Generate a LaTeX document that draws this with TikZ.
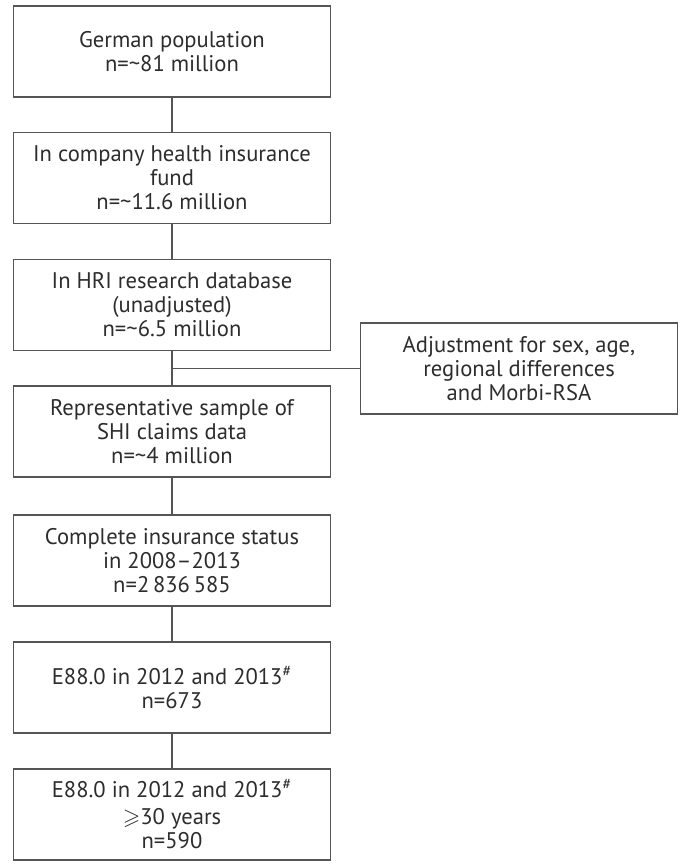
\documentclass[tikz,border=0pt]{standalone}
\usepackage{amsmath,amssymb}
\usepackage{fontspec}
\setmainfont{PT Sans}
\usepackage{tikz}
\usetikzlibrary{positioning}
\definecolor{boxline}{RGB}{85,85,85}
\definecolor{boxtext}{RGB}{45,45,45}

\begin{document}
\begin{tikzpicture}[x=0.5pt, y=-0.5pt,
    font=\fontsize{11.3pt}{12pt}\selectfont,
    flowbox/.style={draw=boxline, line width=0.7pt, text=boxtext, align=center,
      minimum width=158.5pt, minimum height=45.5pt, inner sep=2pt},
    link/.style={draw=boxline, line width=0.7pt}]
        \useasboundingbox[fill=white] (0,0) rectangle (681,864);
        % main chain of cohort steps
        \node[flowbox] (pop) at (172,51.5) {German population\\n=\textasciitilde81 million};
        \node[flowbox] (fund) at (172,178) {In company health insurance\\fund\\n=\textasciitilde11.6 million};
        \node[flowbox] (hri) at (172,305) {In HRI research database\\(unadjusted)\\n=\textasciitilde6.5 million};
        \node[flowbox] (sample) at (172,431.5) {Representative sample of\\SHI claims data\\n=\textasciitilde4 million};
        \node[flowbox] (status) at (172,560.5) {Complete insurance status\\in 2008--2013\\n=2\,836\,585};
        \node[flowbox] (eighty) at (172,687.5) {E88.0 in 2012 and 2013\textsuperscript{\#}\\n=673};
        \node[flowbox] (thirty) at (172,814.5) {E88.0 in 2012 and 2013\textsuperscript{\#}\\[1.5pt]$\geqslant$30 years\\n=590};
        % side step
        \node[flowbox] (adjust) at (519,368.5)
          {Adjustment for sex, age,\\regional differences\\and Morbi-RSA};
        \foreach \a/\b in {pop/fund,fund/hri,hri/sample,sample/status,status/eighty,eighty/thirty}
          \draw[link] (\a) -- (\b);
        \draw[link] (adjust.west) -- (adjust.west -| hri.south);
      \end{tikzpicture}
\end{document}
